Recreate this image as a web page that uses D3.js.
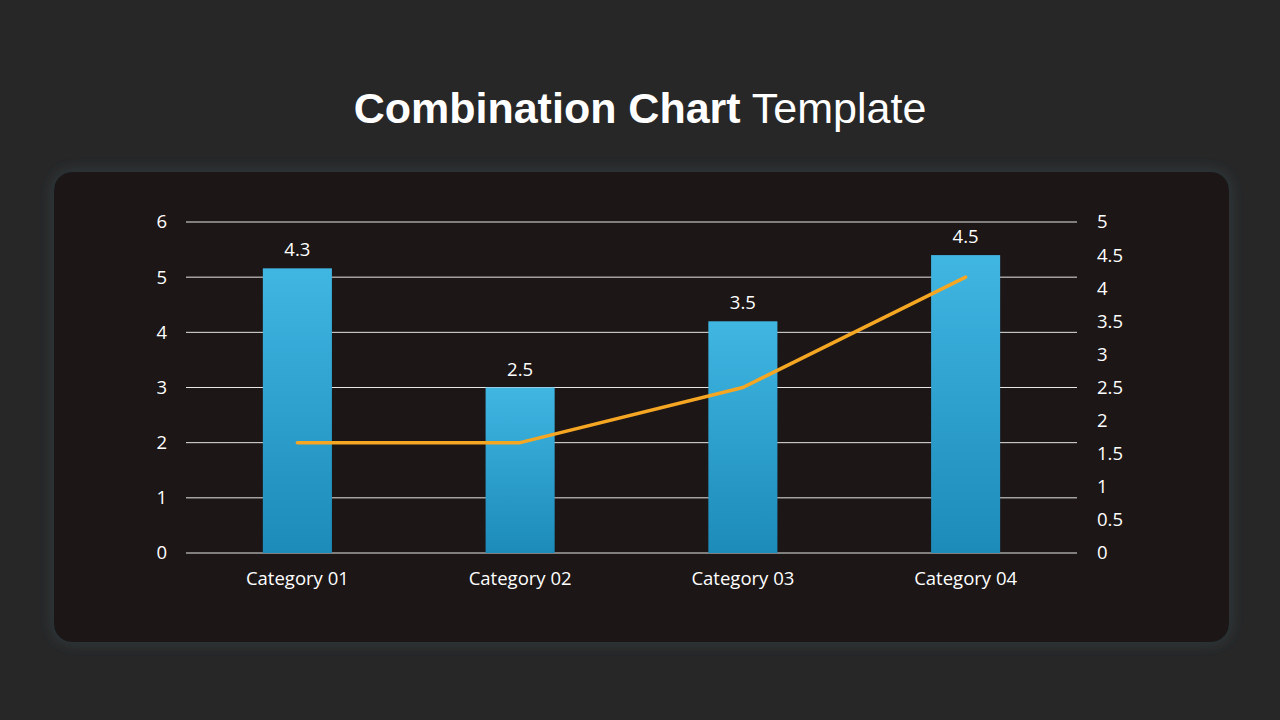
<!DOCTYPE html>
<html><head><meta charset="utf-8">
<script src="https://cdn.jsdelivr.net/npm/d3@7"></script>
<style>
html,body{margin:0;padding:0;background:#272727;}
svg{display:block;}
</style></head>
<body>
<svg id="c" width="1280" height="720"></svg>
<script>
const categories = ["Category 01","Category 02","Category 03","Category 04"];
const barValues = [4.3, 2.5, 3.5, 4.5];      // secondary (right) axis
const lineValues = [2, 2, 3, 5];             // primary (left) axis
const leftTicks = [0,1,2,3,4,5,6];
const rightTicks = [0,0.5,1,1.5,2,2.5,3,3.5,4,4.5,5];

(function(){
const svg = d3.select("#c");
const defs = svg.append("defs");
const g1 = defs.append("linearGradient").attr("id","barGrad").attr("x1",0).attr("y1",0).attr("x2",0).attr("y2",1);
g1.append("stop").attr("offset","0%").attr("stop-color","#40b6e3");
g1.append("stop").attr("offset","100%").attr("stop-color","#1c8bb9");
const f = defs.append("filter").attr("id","glow").attr("x","-10%").attr("y","-10%").attr("width","120%").attr("height","120%");
f.append("feGaussianBlur").attr("in","SourceAlpha").attr("stdDeviation",8).attr("result","b");
f.append("feFlood").attr("flood-color","#3a5560").attr("flood-opacity",0.5);
f.append("feComposite").attr("in2","b").attr("operator","in").attr("result","s");
const m = f.append("feMerge"); m.append("feMergeNode").attr("in","s"); m.append("feMergeNode").attr("in","SourceGraphic");

svg.append("rect").attr("width",1280).attr("height",720).attr("fill","#272727");

// title
const t = svg.append("text").attr("x",640).attr("y",123).attr("text-anchor","middle")
  .attr("font-family","'Liberation Sans', Arial, sans-serif").attr("font-size",43).attr("fill","#ffffff");
t.append("tspan").attr("font-weight","bold").text("Combination Chart");
t.append("tspan").text(" Template");

// panel
svg.append("rect").attr("x",54).attr("y",172).attr("width",1175).attr("height",470).attr("rx",18)
  .attr("fill","#1a1819").attr("filter","url(#glow)");

const pl = 186, pr = 1077, pt = 222, pb = 553;
const x = d3.scaleBand().domain(categories).range([pl,pr]).paddingInner(0.69).paddingOuter(0.345);
const yL = d3.scaleLinear().domain([0,6]).range([pb,pt]);
const yR = d3.scaleLinear().domain([0,5]).range([pb,pt]);
const font = "'Open Sans', 'Noto Sans', sans-serif";

// gridlines
svg.append("g").selectAll("line").data(leftTicks).join("line")
  .attr("x1",pl).attr("x2",pr).attr("y1",d=>yL(d)).attr("y2",d=>yL(d))
  .attr("stroke","#e6e6e6").attr("stroke-width",1);

// axes (labels only)
const axL = svg.append("g").attr("transform",`translate(${pl},0)`)
  .call(d3.axisLeft(yL).tickValues(leftTicks).tickSize(0).tickPadding(19).tickFormat(d3.format("")));
const axR = svg.append("g").attr("transform",`translate(${pr},0)`)
  .call(d3.axisRight(yR).tickValues(rightTicks).tickSize(0).tickPadding(20).tickFormat(d3.format("")));
const axB = svg.append("g").attr("transform",`translate(0,${pb})`)
  .call(d3.axisBottom(x).tickSize(0).tickPadding(19));
[axL,axR,axB].forEach(a=>{
  a.select(".domain").remove();
  a.selectAll("text").attr("fill","#ffffff").attr("font-family",font).attr("font-size",18.5);
});

// bars
svg.append("g").selectAll("rect").data(barValues).join("rect")
  .attr("x",(d,i)=>x(categories[i])).attr("width",x.bandwidth())
  .attr("y",d=>yR(d)).attr("height",d=>pb-yR(d)).attr("fill","url(#barGrad)");

// bar labels
svg.append("g").selectAll("text").data(barValues).join("text")
  .attr("x",(d,i)=>x(categories[i])+x.bandwidth()/2).attr("y",d=>yR(d)-12)
  .attr("text-anchor","middle").attr("fill","#ffffff").attr("font-family",font).attr("font-size",18.5)
  .text(d=>d.toFixed(1));

// line
const line = d3.line().x((d,i)=>x(categories[i])+x.bandwidth()/2).y(d=>yL(d));
svg.append("path").datum(lineValues).attr("d",line).attr("fill","none")
  .attr("stroke","#f5a623").attr("stroke-width",3.5).attr("stroke-linecap","round").attr("stroke-linejoin","round");
})();
</script>
</body></html>
